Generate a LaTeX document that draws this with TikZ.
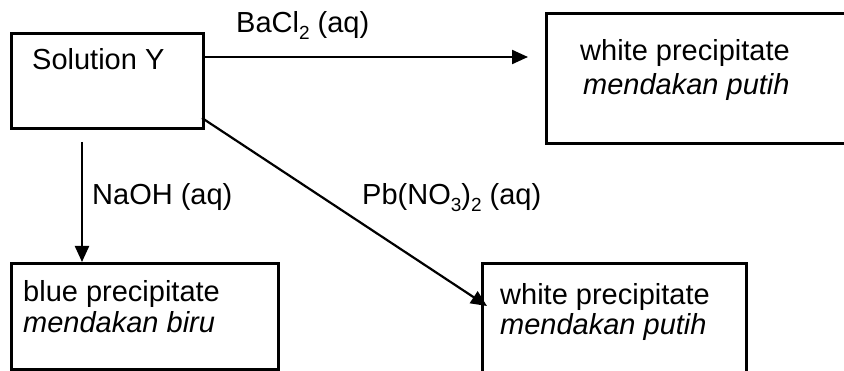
\documentclass[tikz,border=0pt]{standalone}
\usepackage{fontspec}
\setmainfont{Liberation Sans}
\usetikzlibrary{arrows.meta}
\newcommand{\chsub}[1]{\raisebox{-0.22em}{\fontsize{19}{19}\selectfont #1}}
\begin{document}
\begin{tikzpicture}[x=1pt,y=-1pt,
  box/.style={draw, line width=2.6pt, rectangle, inner sep=0pt, anchor=north west},
  lbl/.style={anchor=base west, inner sep=0pt, font=\fontsize{29}{31}\selectfont},
  arr/.style={line width=2.2pt, -{Triangle[length=16pt,width=14pt]}}]
\useasboundingbox (0,0) rectangle (844,371);
\clip (0,0) rectangle (844,371);
% boxes
\node[box, minimum width=192pt, minimum height=95pt] (soly) at (10,32) {};
\node[box, minimum width=310pt, minimum height=130pt] (wtop) at (545,12) {};
\node[box, minimum width=267pt, minimum height=106pt] (blue) at (10,262) {};
\node[box, minimum width=264pt, minimum height=130pt] (wbot) at (481,262) {};
% texts
\node[lbl] (tsoly) at (32,70) {Solution Y};
\node[lbl] (tba) at (236,33) {BaCl\chsub{2} (aq)};
\node[lbl] (tw1a) at (580,61) {white precipitate};
\node[lbl] (tw1b) at (583,95) {\itshape mendakan putih};
\node[lbl] (tna) at (92,205) {NaOH (aq)};
\node[lbl] (tpb) at (362,205) {Pb(NO\chsub{3})\chsub{2} (aq)};
\node[lbl] (tb1) at (23,302) {blue precipitate};
\node[lbl] (tb2) at (23,333) {\itshape mendakan biru};
\node[lbl] (tw2a) at (500,305) {white precipitate};
\node[lbl] (tw2b) at (500,335) {\itshape mendakan putih};
% connector end points
\coordinate (baS) at (soly.east |- 0,57);
\coordinate (baE) at (528,57);
\coordinate (naS) at (82,142);
\coordinate (naE) at (82,262);
\coordinate (pbS) at (202,118);
\coordinate (pbE) at (487,306);
% connectors
\draw[arr] (baS) -- (baE);
\draw[arr] (naS) -- (naE);
\draw[arr] (pbS) -- (pbE);
\end{tikzpicture}
\end{document}
